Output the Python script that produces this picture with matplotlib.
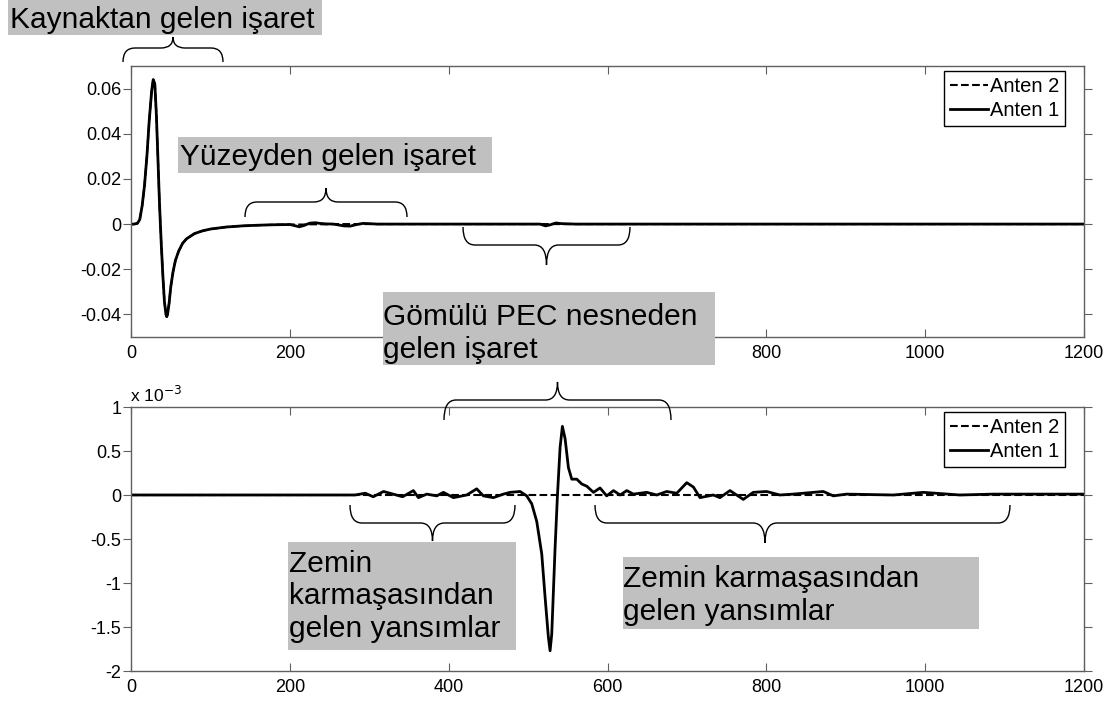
import matplotlib.pyplot as plt
from matplotlib.path import Path
from matplotlib.patches import PathPatch, Rectangle

plt.rcParams['font.family'] = ['Liberation Sans', 'DejaVu Sans']
plt.rcParams['axes.unicode_minus'] = False

# ---- data ----
# upper plot: source pulse (both antennas almost identical)
top_x = [0, 4, 8, 11, 14, 17, 20, 23, 26, 28, 30, 32, 34, 36, 38, 40, 42, 44, 45, 46,
         48, 50, 53, 56, 60, 65, 70, 80, 90, 100, 120, 140, 160, 180, 200, 205, 212,
         218, 225, 232, 238, 245, 255, 268, 276, 284, 292, 300, 310, 400, 515, 522,
         527, 535, 542, 560, 700, 900, 1200]
anten1_top = [0, 0, 0.0003, 0.002, 0.008, 0.017, 0.030, 0.046, 0.059, 0.064, 0.062,
              0.048, 0.028, 0.008, -0.008, -0.022, -0.034, -0.040, -0.041, -0.040,
              -0.035, -0.028, -0.021, -0.016, -0.012, -0.0085, -0.0065, -0.0042,
              -0.003, -0.0022, -0.0013, -0.0008, -0.0005, -0.0003, -0.0002, -0.0006,
              -0.0012, -0.0006, 0.0004, 0.0006, 0.0003, 0.0001, 0.0, -0.0008, -0.0009,
              -0.0002, 0.0003, 0.0002, 0.0, 0.0, 0.0, -0.0008, -0.0004, 0.0005, 0.0002,
              0.0, 0.0, 0.0, 0.0]
anten2_top = [0, 0, 0.0003, 0.002, 0.008, 0.017, 0.030, 0.046, 0.059, 0.064, 0.062,
              0.048, 0.028, 0.008, -0.008, -0.022, -0.034, -0.040, -0.041, -0.040,
              -0.035, -0.028, -0.021, -0.016, -0.012, -0.0085, -0.0065, -0.0042,
              -0.003, -0.0022, -0.0013, -0.0008, -0.0005, -0.0003, -0.0002, -0.0002,
              -0.0002, -0.0002, -0.0001, -0.0001, -0.0001, -0.0001, 0.0, 0.0, 0.0,
              0.0, 0.0, 0.0, 0.0, 0.0, 0.0, 0.0, 0.0, 0.0, 0.0, 0.0, 0.0, 0.0, 0.0]

# lower plot (x 10^-3)
bot_x = [0, 282, 295, 305, 318, 330, 342, 355.6, 361.9, 372.4, 385, 393.4, 406, 422.7,
         435.3, 443.7, 456.3, 468.9, 477.3, 489.9, 498.3, 504.6, 510.9, 517.2, 521.4,
         525.6, 527.7, 529.8, 534, 537, 540.3, 543.2, 546.6, 550.8, 555, 561.3, 567.6,
         573.9, 582.3, 590.6, 599, 607.5, 615.9, 624.3, 632.6, 649.4, 662, 674.6,
         687.2, 699.8, 708.2, 716.5, 733.1, 741.6, 754.2, 771, 783.5, 800.3, 817,
         833.9, 871.7, 884.3, 901, 960, 997.6, 1043.8, 1085.8, 1169.7, 1200]
anten1_bot = [0, 0, 0.02, -0.02, 0.04, 0.01, -0.02, 0.05, -0.03, 0.01, -0.01, 0.03,
              -0.03, 0.0, 0.07, -0.01, -0.03, 0.01, 0.03, 0.04, -0.01, -0.1, -0.3,
              -0.67, -1.16, -1.62, -1.77, -1.58, -0.6, 0.0, 0.54, 0.78, 0.64, 0.31,
              0.18, 0.18, 0.125, 0.1, 0.03, 0.08, -0.01, 0.05, 0.0, 0.05, 0.01, 0.03,
              0.0, 0.04, 0.02, 0.14, 0.09, -0.03, 0.0, -0.03, 0.05, -0.05, 0.03, 0.04,
              0.0, 0.01, 0.04, -0.01, 0.01, 0.0, 0.03, 0.0, 0.01, 0.01, 0.01]
anten2_bot_x = [0, 1200]
anten2_bot = [0, 0]

top_yticks = [-0.04, -0.02, 0, 0.02, 0.04, 0.06]
top_ylabels = ['-0.04', '-0.02', '0', '0.02', '0.04', '0.06']
bot_yticks = [-2, -1.5, -1, -0.5, 0, 0.5, 1]
bot_ylabels = ['-2', '-1.5', '-1', '-0.5', '0', '0.5', '1']
xticks = [0, 200, 400, 600, 800, 1000, 1200]
xlabels = ['0', '200', '400', '600', '800', '1000', '1200']
# 400 and 600 of the upper plot sit under the grey label box
top_xlabels = ['0', '200', '', '', '800', '1000', '1200']

W, H = 1115, 702
fig = plt.figure(figsize=(11.15, 7.02), dpi=100)


def fx(x):
    return x / W


def fy(y):
    return 1 - y / H


def style_axes(ax):
    ax.tick_params(axis='x', direction='in', length=6, top=True, labelsize=13,
                   color='#606060', pad=6)
    ax.tick_params(axis='y', direction='out', length=6, labelsize=13,
                   color='#606060', pad=1)
    ax.tick_params(axis='y', which='major', right=True)
    for s in ax.spines.values():
        s.set_color('#606060')
        s.set_linewidth(1.0)


def add_legend(ax, top):
    ax.legend(loc='upper right', bbox_to_anchor=(fx(1065), fy(top)),
              bbox_transform=fig.transFigure, fancybox=False, edgecolor='black',
              framealpha=1, fontsize=14.5, handlelength=1.85, handletextpad=0.1,
              borderaxespad=0, borderpad=0.3, labelspacing=0.25)


ax1 = fig.add_axes([fx(131), fy(337), fx(1084) - fx(131), fy(66) - fy(337)])
ax1.plot(top_x, anten2_top, 'k--', lw=1.5, label='Anten 2')
ax1.plot(top_x, anten1_top, 'k-', lw=2, label='Anten 1')
ax1.set_xlim(0, 1200)
ax1.set_ylim(-0.05, 0.07)
ax1.set_xticks(xticks)
ax1.set_xticklabels(top_xlabels)
ax1.set_yticks(top_yticks)
ax1.set_yticklabels(top_ylabels)
style_axes(ax1)
add_legend(ax1, 71)

ax2 = fig.add_axes([fx(131), fy(671), fx(1084) - fx(131), fy(407) - fy(671)])
ax2.plot(anten2_bot_x, anten2_bot, 'k--', lw=1.5, label='Anten 2')
ax2.plot(bot_x, anten1_bot, 'k-', lw=2, label='Anten 1')
ax2.set_xlim(0, 1200)
ax2.set_ylim(-2, 1)
ax2.set_xticks(xticks)
ax2.set_xticklabels(xlabels)
ax2.set_yticks(bot_yticks)
ax2.set_yticklabels(bot_ylabels)
style_axes(ax2)
add_legend(ax2, 412)
fig.text(fx(130), fy(402), r'x 10$^{-3}$', fontsize=12.5, va='baseline', ha='left')


# curly braces (pixel coordinates of the picture)
def brace(x0, x1, y_end, y_mid, y_tip, xm=None, r=12):
    if xm is None:
        xm = (x0 + x1) / 2
    pts = [(x0, y_end), (x0, y_mid), (x0 + r, y_mid), (xm - r, y_mid), (xm, y_mid),
           (xm, y_tip), (xm, y_mid), (xm + r, y_mid), (x1 - r, y_mid), (x1, y_mid),
           (x1, y_end)]
    codes = [Path.MOVETO, Path.CURVE3, Path.CURVE3, Path.LINETO, Path.CURVE3, Path.CURVE3,
             Path.CURVE3, Path.CURVE3, Path.LINETO, Path.CURVE3, Path.CURVE3]
    verts = [(fx(a), fy(b)) for a, b in pts]
    fig.patches.append(PathPatch(Path(verts, codes), transform=fig.transFigure,
                                 facecolor='none', edgecolor='black', lw=1.0, zorder=5))


brace(123, 223, 62, 48, 37)
brace(245, 407, 217, 202, 188)
brace(463, 630, 227, 245, 265)
brace(444, 671, 420, 400, 382)
brace(350, 515, 505, 523, 541)
brace(595, 1010, 505, 523, 543, xm=765)


# gray labels
def label(x0, y0, x1, y1, lines, tx, ty, dy=32.5):
    fig.patches.append(Rectangle((fx(x0), fy(y1)), fx(x1) - fx(x0), fy(y0) - fy(y1),
                                 transform=fig.transFigure, facecolor='#c0c0c0',
                                 edgecolor='none', zorder=4))
    for i, t in enumerate(lines):
        fig.text(fx(tx), fy(ty + i * dy), t, fontsize=21.5, va='baseline', ha='left',
                 zorder=6)


label(8, 0, 322, 35, ['Kaynaktan gelen işaret'], 10, 28)
label(178, 137, 492, 173, ['Yüzeyden gelen işaret'], 180, 165)
label(383, 292, 715, 365, ['Gömülü PEC nesneden', 'gelen işaret'], 383, 325)
label(288, 542, 516, 650, ['Zemin', 'karmaşasından', 'gelen yansımlar'], 289, 572)
label(623, 557, 979, 629, ['Zemin karmaşasından', 'gelen yansımlar'], 623, 587)

fig.savefig('out.png', dpi=100)
